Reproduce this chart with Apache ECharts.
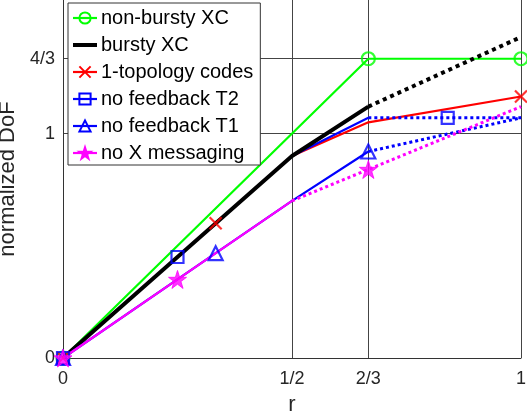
<!DOCTYPE html>
<html><head><meta charset="utf-8">
<script src="https://cdn.jsdelivr.net/npm/echarts@6/dist/echarts.min.js"></script>
<style>html,body{margin:0;padding:0;background:#fff}#c{width:527px;height:414px}</style>
</head><body><div id="c"></div>
<script>
const rTicks = [0, 1/2, 2/3, 1];
const rTickLabels = ['0', '1/2', '2/3', '1'];
const dofTicks = [0, 1, 4/3];
const dofTickLabels = ['0', '1', '4/3'];

const seriesNames = ['non-bursty XC', 'bursty XC', '1-topology codes', 'no feedback T2', 'no feedback T1', 'no X messaging'];

// non-bursty XC
const nonBurstyR = [0, 2/3, 1];
const nonBurstyDoF = [0, 4/3, 4/3];
const nonBurstyMarkR = [0, 2/3, 1];
const nonBurstyMarkDoF = [0, 4/3, 4/3];

// bursty XC
const burstyR = [0, 1/2, 2/3];
const burstyDoF = [0, 0.9, 1.12];
const burstyExtR = [2/3, 1];
const burstyExtDoF = [1.12, 1.43];

// 1-topology codes
const topoR = [0, 1/3, 1/2, 2/3, 1];
const topoDoF = [0, 0.6, 0.9, 1.05, 1.165];
const topoMarkR = [0, 1/3, 1];
const topoMarkDoF = [0, 0.6, 1.165];

// no feedback T2
const t2R = [0, 1/4, 1/2, 2/3];
const t2DoF = [0, 0.45, 0.9, 1.07];
const t2ExtR = [2/3, 1];
const t2ExtDoF = [1.07, 1.07];
const t2MarkR = [0, 1/4, 0.84];
const t2MarkDoF = [0, 0.45, 1.07];

// no feedback T1
const t1R = [0, 1/3, 1/2, 2/3];
const t1DoF = [0, 0.467, 0.7, 0.92];
const t1ExtR = [2/3, 1];
const t1ExtDoF = [0.92, 1.07];
const t1MarkR = [0, 1/3, 2/3];
const t1MarkDoF = [0, 0.467, 0.92];

// no X messaging
const noXR = [0, 1/4, 1/2];
const noXDoF = [0, 0.35, 0.7];
const noXExtR = [1/2, 2/3, 1];
const noXExtDoF = [0.7, 0.84, 1.12];
const noXMarkR = [0, 1/4, 2/3];
const noXMarkDoF = [0, 0.35, 0.84];

const FONT = "'Liberation Sans', Arial, Helvetica, sans-serif";
const GREEN = '#00ff00', BLACK = '#000000', RED = '#ff0000', BLUE = '#0000ff', MAGENTA = '#ff00ff';
const STAR = 'path://M50,0L61.2,34.5L97.6,34.5L68.2,55.9L79.4,90.5L50,69.1L20.6,90.5L31.8,55.9L2.4,34.5L38.8,34.5Z';
const CROSS = 'path://M0,0L10,10M10,0L0,10';
const CLEAR = 'rgba(0,0,0,0)';

function zip(xs, ys) { return xs.map((x, i) => ({ value: [x, ys[i]], symbol: 'none' })); }
function zipM(xs, ys) { return xs.map((x, i) => [x, ys[i]]); }

const styles = {
  'non-bursty XC': { color: GREEN, width: 2.2, symbol: 'circle', size: 13, filled: false },
  'bursty XC': { color: BLACK, width: 4, symbol: 'none', size: 0, filled: false, hidden: true },
  '1-topology codes': { color: RED, width: 2.2, symbol: CROSS, size: 12, filled: false },
  'no feedback T2': { color: BLUE, width: 2.2, symbol: 'rect', size: 12, filled: false },
  'no feedback T1': { color: BLUE, width: 2.2, symbol: 'triangle', size: 14, filled: false },
  'no X messaging': { color: MAGENTA, width: 2.2, symbol: STAR, size: 18, filled: true }
};

function itemStyleOf(st) {
  if (st.hidden) return { color: CLEAR, borderColor: CLEAR, borderWidth: 0 };
  return st.filled
    ? { color: st.color, borderColor: st.color, borderWidth: 1 }
    : { color: CLEAR, borderColor: st.color, borderWidth: 2.2 };
}

let zc = 2;
function lineSeries(name, xs, ys, dotted) {
  const st = styles[name];
  const dw = name === 'bursty XC' ? 4 : 3;
  return {
    type: 'line', name: name, data: zip(xs, ys), z: zc++,
    symbol: st.symbol, symbolSize: st.size * 0.9,
    itemStyle: itemStyleOf(st),
    lineStyle: dotted
      ? { color: st.color, width: dw, type: name === 'bursty XC' ? [4, 4] : [3, 3] }
      : { color: st.color, width: st.width, type: 'solid' },
    silent: true, animation: false
  };
}
function markSeries(name, xs, ys) {
  const st = styles[name];
  return {
    type: 'scatter', name: name, data: zipM(xs, ys), z: 30 + zc++,
    symbol: st.symbol, symbolSize: st.size,
    itemStyle: itemStyleOf(st), silent: true, animation: false
  };
}

const series = [
  lineSeries('non-bursty XC', nonBurstyR, nonBurstyDoF, false),
  lineSeries('bursty XC', burstyR, burstyDoF, false),
  lineSeries('1-topology codes', topoR, topoDoF, false),
  lineSeries('no feedback T2', t2R, t2DoF, false),
  lineSeries('no feedback T1', t1R, t1DoF, false),
  lineSeries('no X messaging', noXR, noXDoF, false),
  lineSeries('bursty XC', burstyExtR, burstyExtDoF, true),
  lineSeries('no feedback T2', t2ExtR, t2ExtDoF, true),
  lineSeries('no feedback T1', t1ExtR, t1ExtDoF, true),
  lineSeries('no X messaging', noXExtR, noXExtDoF, true),
  markSeries('non-bursty XC', nonBurstyMarkR, nonBurstyMarkDoF),
  markSeries('1-topology codes', topoMarkR, topoMarkDoF),
  markSeries('no feedback T2', t2MarkR, t2MarkDoF),
  markSeries('no feedback T1', t1MarkR, t1MarkDoF),
  markSeries('no X messaging', noXMarkR, noXMarkDoF)
];
// draw black solid above red / T2 where they coincide
series[1].z = 6; series[2].z = 3; series[3].z = 4; series[4].z = 7; series[5].z = 8;

function tickLabel(values, labels) {
  return function (v) {
    for (let i = 0; i < values.length; i++) if (Math.abs(values[i] - v) < 1e-6) return labels[i];
    return '';
  };
}

const legendData = seriesNames.map(n => n === 'bursty XC'
  ? { name: n, lineStyle: { width: 4, color: BLACK } }
  : { name: n });

const chart = echarts.init(document.getElementById('c'), null, { renderer: 'canvas' });
chart.setOption({
  animation: false,
  backgroundColor: '#fff',
  textStyle: { fontFamily: FONT },
  grid: { left: 63, right: 6, top: 0, bottom: 56, containLabel: false, outerBoundsMode: 'none' },
  xAxis: {
    type: 'value', min: 0, max: 1,
    name: 'r', nameLocation: 'middle', nameGap: 36,
    nameTextStyle: { fontSize: 22, color: '#262626', fontFamily: FONT },
    axisLine: { show: true, lineStyle: { color: '#333', width: 1 } },
    axisTick: { show: false, customValues: rTicks },
    axisLabel: { customValues: rTicks, formatter: tickLabel(rTicks, rTickLabels), fontSize: 18, color: '#262626', margin: 12, fontFamily: FONT },
    splitLine: { show: true, lineStyle: { color: '#444', width: 1 } }
  },
  yAxis: {
    type: 'value', min: 0, max: 1.595,
    name: 'normalized DoF', nameLocation: 'middle', nameGap: 36,
    nameTextStyle: { fontSize: 22, color: '#262626', fontFamily: FONT },
    axisLine: { show: true, lineStyle: { color: '#333', width: 1 } },
    axisTick: { show: false, customValues: dofTicks },
    axisLabel: { customValues: dofTicks, formatter: tickLabel(dofTicks, dofTickLabels), fontSize: 18, color: '#262626', margin: 8, fontFamily: FONT },
    splitLine: { show: true, lineStyle: { color: '#444', width: 1 } }
  },
  legend: {
    orient: 'vertical', left: 68, top: 3,
    data: legendData, selectedMode: false,
    itemWidth: 24, itemHeight: 14, itemGap: 7,
    padding: [5, 7, 2, 3],
    lineStyle: { width: 'inherit' },
    backgroundColor: '#fff', borderColor: '#333', borderWidth: 1, borderRadius: 0,
    textStyle: { fontSize: 20, color: '#000', fontFamily: FONT, padding: [0, 0, 0, -1] }
  },
  series: series
});
</script>
</body></html>
